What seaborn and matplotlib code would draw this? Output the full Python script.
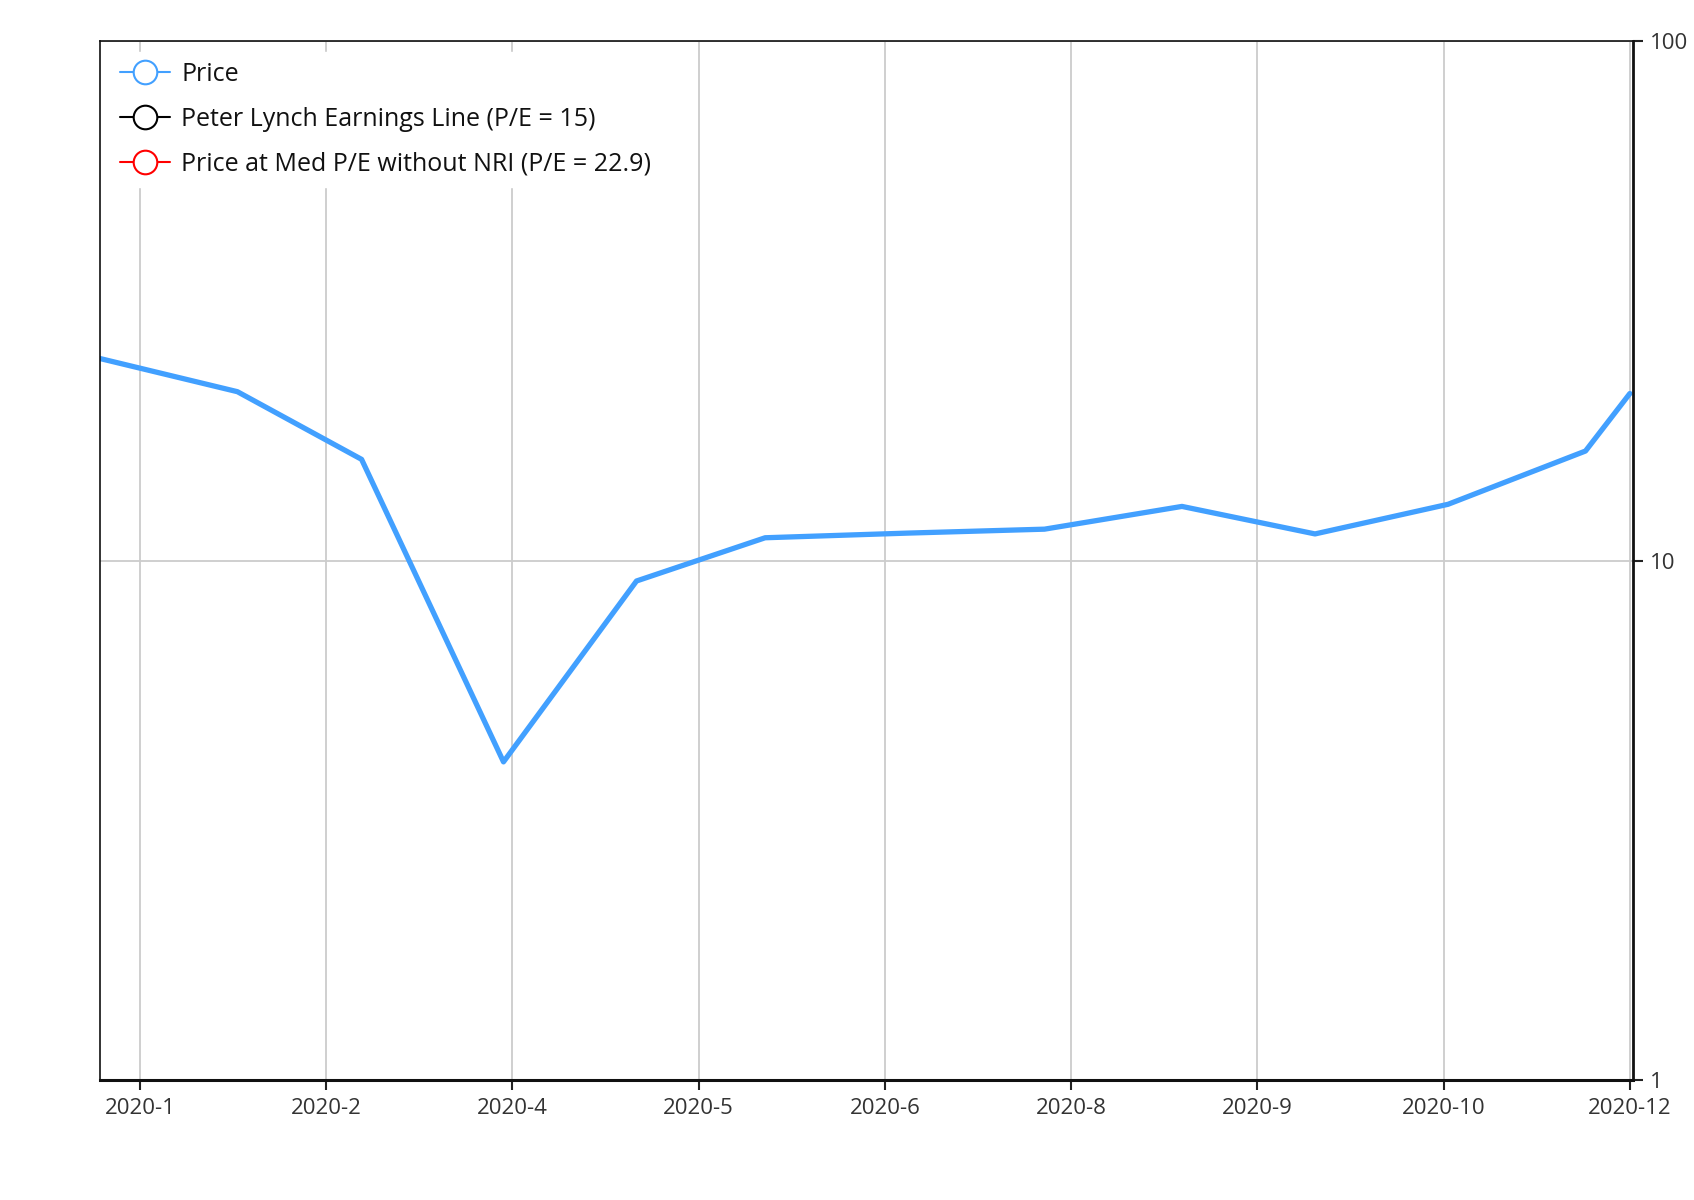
import numpy as np
import pandas as pd
import matplotlib
matplotlib.use('Agg')
import matplotlib.pyplot as plt
from matplotlib.lines import Line2D
import seaborn as sns

# 월말 종가 데이터
dates = ['2019-12-31', '2020-01-31', '2020-02-28', '2020-03-31', '2020-04-30',
         '2020-05-29', '2020-06-30', '2020-07-31', '2020-08-31', '2020-09-30',
         '2020-10-30', '2020-11-30', '2020-12-10']
price = [24.5, 21.15, 15.67, 4.10, 9.14, 11.07, 11.3, 11.5, 12.72, 11.26, 12.84, 16.26, 20.98]

# 눈금 위치와 라벨
tick_dates = ['2020-01-09', '2020-02-20', '2020-04-02', '2020-05-14', '2020-06-25',
              '2020-08-06', '2020-09-17', '2020-10-29', '2020-12-10']
tick_labels = ['2020-1', '2020-2', '2020-4', '2020-5', '2020-6',
               '2020-8', '2020-9', '2020-10', '2020-12']
y_ticks = [1, 10, 100]

legend_labels = ['Price', 'Peter Lynch Earnings Line (P/E = 15)',
                 'Price at Med P/E without NRI (P/E = 22.9)']
legend_colors = ['#42A0FF', '#000000', '#FF0000']

df = pd.DataFrame({'date': pd.to_datetime(dates), 'price': price})

sns.set_theme(style='white')
plt.rcParams['font.family'] = ['Open Sans', 'DejaVu Sans']

fig = plt.figure(figsize=(16.94, 12.0), dpi=100)
ax = fig.add_axes([0.059, 0.0998, 0.9051, 0.8659])

sns.lineplot(data=df, x='date', y='price', ax=ax, color='#42A0FF', linewidth=3.8)

ax.set_yscale('log')
ax.set_ylim(1, 100)
ax.set_yticks(y_ticks)
ax.set_yticklabels([str(t) for t in y_ticks])
ax.yaxis.set_minor_locator(matplotlib.ticker.NullLocator())
ax.yaxis.tick_right()

ax.set_xlim(pd.Timestamp('2019-12-31'), pd.Timestamp('2020-12-10 18:00'))
ax.set_xticks(pd.to_datetime(tick_dates))
ax.set_xticklabels(tick_labels)
ax.set_xlabel('')
ax.set_ylabel('')

ax.grid(True, which='major', color='#cccccc', linewidth=1.3)
ax.tick_params(axis='both', which='major', length=7, width=1.5, color='#222222',
               labelsize=16, labelcolor='#333333')
ax.tick_params(axis='x', bottom=True, pad=6)
ax.tick_params(axis='y', right=True, left=False, pad=5)

for side, lw in [('left', 1.2), ('top', 1.2), ('right', 2.0), ('bottom', 2.2)]:
    ax.spines[side].set_visible(True)
    ax.spines[side].set_color('#111111')
    ax.spines[side].set_linewidth(lw)

handles = [Line2D([], [], color=c, linewidth=1.5, marker='o', markersize=17,
                  markerfacecolor='white', markeredgecolor=c, markeredgewidth=1.5)
           for c in legend_colors]
leg = ax.legend(handles, legend_labels, loc='upper left', fontsize=18,
                frameon=True, facecolor='white', edgecolor='white', framealpha=1,
                handlelength=2.0, handletextpad=0.43, labelspacing=0.8,
                borderaxespad=0.42, fancybox=False)
for t in leg.get_texts():
    t.set_color('#111111')

fig.savefig('out.png', dpi=100)
